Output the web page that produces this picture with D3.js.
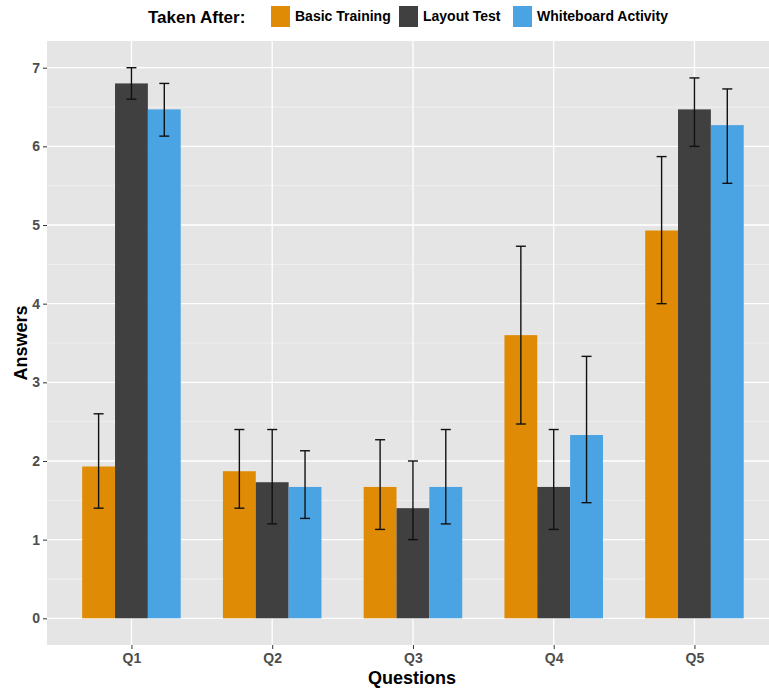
<!DOCTYPE html>
<html>
<head>
<meta charset="utf-8">
<script src="https://cdn.jsdelivr.net/npm/d3@7"></script>
<style>
  body { margin: 0; background: #fff; }
  text { font-family: "Liberation Sans", Arial, sans-serif; }
</style>
</head>
<body>
<div id="chart"></div>
<script>
const questions = ["Q1", "Q2", "Q3", "Q4", "Q5"];
const groups = ["Basic Training", "Layout Test", "Whiteboard Activity"];
const colors = ["#E08B05", "#404040", "#4AA3E2"];

// mean answer per question, one array per group
const basicTraining = [1.93, 1.87, 1.67, 3.60, 4.93];
const layoutTest = [6.80, 1.73, 1.40, 1.67, 6.47];
const whiteboard = [6.47, 1.67, 1.67, 2.33, 6.27];

// error bar low / high
const basicLow = [1.40, 1.40, 1.13, 2.47, 4.00];
const basicHigh = [2.60, 2.40, 2.27, 4.73, 5.87];
const layoutLow = [6.60, 1.20, 1.00, 1.13, 6.00];
const layoutHigh = [7.00, 2.40, 2.00, 2.40, 6.87];
const whiteLow = [6.13, 1.27, 1.20, 1.47, 5.53];
const whiteHigh = [6.80, 2.13, 2.40, 3.33, 6.73];

const yTicks = [0, 1, 2, 3, 4, 5, 6, 7];

const means = [basicTraining, layoutTest, whiteboard];
const lows = [basicLow, layoutLow, whiteLow];
const highs = [basicHigh, layoutHigh, whiteHigh];

const rows = [];
questions.forEach((q, i) => {
  groups.forEach((g, j) => {
    rows.push({ q: q, g: g, gi: j, v: means[j][i], lo: lows[j][i], hi: highs[j][i] });
  });
});

const w = 769, h = 690;
const svg = d3.select("#chart").append("svg")
  .attr("width", w)
  .attr("height", h);

const panelLeft = 47, panelTop = 41, panelBottom = 645;

// discrete x: 0.6 step of expansion on each side, like ggplot
const step = 140.75;
const xAxisScale = d3.scalePoint().domain(questions)
  .range([panelLeft + step * 0.6, panelLeft + step * 4.6]);
const xCenter = (q) => xAxisScale(q);
const barW = step * 0.7 / 3;

const yScale = d3.scaleLinear()
  .domain([0, 7])
  .range([618.3, 67.7]);

// panel
svg.append("rect")
  .attr("x", panelLeft)
  .attr("y", panelTop)
  .attr("width", w - panelLeft + 20)
  .attr("height", panelBottom - panelTop)
  .attr("fill", "#E5E5E5");

// minor grid
svg.append("g").selectAll("line")
  .data(d3.range(0.5, 7, 1))
  .enter().append("line")
  .attr("x1", panelLeft).attr("x2", w)
  .attr("y1", d => yScale(d)).attr("y2", d => yScale(d))
  .attr("stroke", "#F2F2F2").attr("stroke-width", 0.8);

// major grid
svg.append("g").selectAll("line")
  .data(yTicks)
  .enter().append("line")
  .attr("x1", panelLeft).attr("x2", w)
  .attr("y1", d => yScale(d)).attr("y2", d => yScale(d))
  .attr("stroke", "#fff").attr("stroke-width", 1.3);

svg.append("g").selectAll("line")
  .data(questions)
  .enter().append("line")
  .attr("x1", d => xCenter(d)).attr("x2", d => xCenter(d))
  .attr("y1", panelTop).attr("y2", panelBottom)
  .attr("stroke", "#fff").attr("stroke-width", 1.3);

// bars
svg.append("g").selectAll("rect")
  .data(rows)
  .enter().append("rect")
  .attr("x", d => xCenter(d.q) - 1.5 * barW + d.gi * barW)
  .attr("y", d => yScale(d.v))
  .attr("width", barW)
  .attr("height", d => yScale(0) - yScale(d.v))
  .attr("fill", d => colors[d.gi]);

// error bars
const capW = 5;
const eb = svg.append("g").attr("stroke", "#111").attr("stroke-width", 1.4);
rows.forEach(d => {
  const cx = xCenter(d.q) - barW + d.gi * barW;
  eb.append("line").attr("x1", cx).attr("x2", cx)
    .attr("y1", yScale(d.lo)).attr("y2", yScale(d.hi));
  eb.append("line").attr("x1", cx - capW).attr("x2", cx + capW)
    .attr("y1", yScale(d.lo)).attr("y2", yScale(d.lo));
  eb.append("line").attr("x1", cx - capW).attr("x2", cx + capW)
    .attr("y1", yScale(d.hi)).attr("y2", yScale(d.hi));
});

// y axis
const yAxis = d3.axisLeft(yScale).tickValues(yTicks)
  .tickFormat(d3.format("d")).tickSize(4).tickPadding(3);
const yg = svg.append("g")
  .attr("transform", `translate(${panelLeft}, 0)`)
  .call(yAxis);
yg.select(".domain").remove();
yg.selectAll(".tick line").attr("stroke", "#333");
yg.selectAll(".tick text")
  .attr("fill", "#4D4D4D")
  .style("font-size", "14px")
  .style("font-weight", "bold");

// x axis
const xg = svg.append("g")
  .attr("transform", `translate(0, ${panelBottom})`)
  .call(d3.axisBottom(xAxisScale).tickSize(4).tickPadding(4));
xg.select(".domain").remove();
xg.selectAll(".tick line").attr("stroke", "#333");
xg.selectAll(".tick text")
  .attr("fill", "#4D4D4D")
  .style("font-size", "14px")
  .style("font-weight", "bold");

// axis titles
svg.append("text")
  .attr("x", 412)
  .attr("y", 684)
  .attr("text-anchor", "middle")
  .style("font-size", "18px")
  .style("font-weight", "bold")
  .text("Questions");

svg.append("text")
  .attr("transform", `translate(27, ${(panelTop + panelBottom) / 2}) rotate(-90)`)
  .attr("text-anchor", "middle")
  .style("font-size", "18px")
  .style("font-weight", "bold")
  .text("Answers");

// legend
const legend = svg.append("g");
legend.append("text")
  .attr("x", 148).attr("y", 23)
  .style("font-size", "17px")
  .style("font-weight", "bold")
  .text("Taken After:");

const keyX = [271, 399, 513];
groups.forEach((g, i) => {
  legend.append("rect")
    .attr("x", keyX[i]).attr("y", 6)
    .attr("width", 19).attr("height", 21)
    .attr("fill", colors[i]);
  legend.append("text")
    .attr("x", keyX[i] + 24).attr("y", 21)
    .style("font-size", "14px")
    .style("font-weight", "bold")
    .text(g);
});
</script>
</body>
</html>
